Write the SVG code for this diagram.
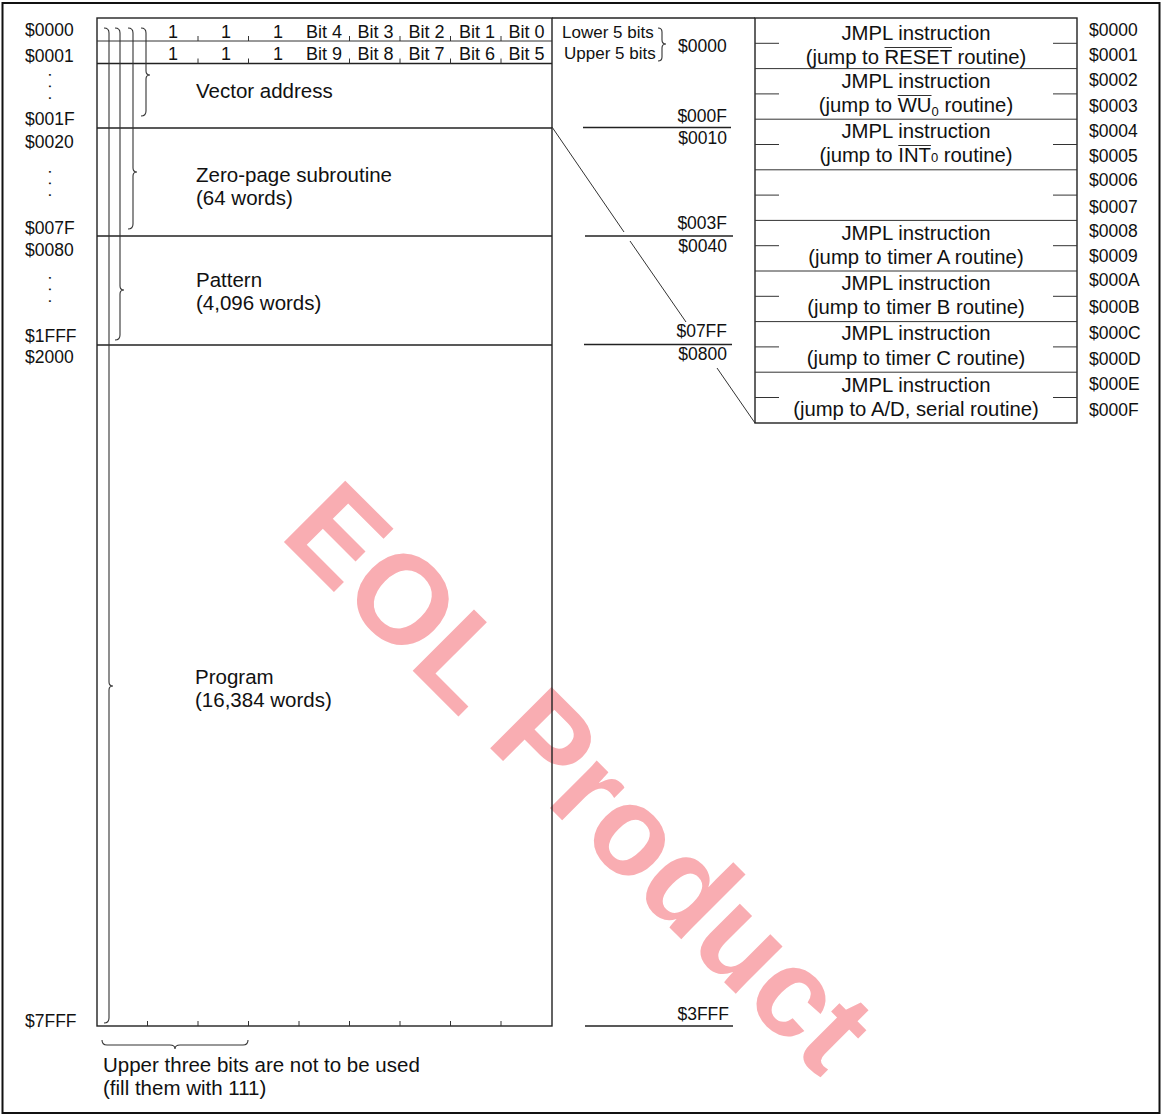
<svg xmlns="http://www.w3.org/2000/svg" width="1166" height="1116" viewBox="0 0 1166 1116">
<style>
text { font-family: "Liberation Sans", Arial, sans-serif; fill: #111; }
.addr { font-size: 17.5px; }
.note { font-size: 17px; }
.end { text-anchor: end; }
.lbl { font-size: 20.5px; }
.bit { font-size: 18px; text-anchor: middle; }
.tb { font-size: 20.3px; text-anchor: middle; }
.dots { font-size: 17px; letter-spacing: 6.8px; }
.ln { stroke: #222; stroke-width: 1.4; fill: none; }
.thin { stroke: #333; stroke-width: 1; fill: none; }
.br { stroke: #333; stroke-width: 1.1; fill: none; }
.wm { font-family: "Liberation Sans", Arial, sans-serif; font-weight: bold; font-size: 126px; fill: #f9adb2; }
</style>
<rect x="2.5" y="3" width="1157" height="1110" fill="#fff" stroke="#111" stroke-width="2"/>
<text class="wm" x="278" y="536" transform="rotate(45 278 536)">EOL Product</text>

<g id="left-addresses">
<text class="addr" x="25" y="36">$0000</text>
<text class="addr" x="25" y="62">$0001</text>
<text class="dots" transform="translate(49 72.6) rotate(90)">...</text>
<text class="addr" x="25" y="125">$001F</text>
<text class="addr" x="25" y="148">$0020</text>
<text class="dots" transform="translate(49 169.6) rotate(90)">...</text>
<text class="addr" x="25" y="234">$007F</text>
<text class="addr" x="25" y="256">$0080</text>
<text class="dots" transform="translate(49 275.6) rotate(90)">...</text>
<text class="addr" x="25" y="342">$1FFF</text>
<text class="addr" x="25" y="363">$2000</text>
<text class="addr" x="25" y="1027">$7FFF</text>
</g>

<g id="memory-map">
<rect class="ln" x="97" y="18" width="455" height="1008"/>
<line class="thin" x1="97" y1="41" x2="552" y2="41"/>
<line class="ln" x1="97" y1="63.5" x2="552" y2="63.5"/>
<line class="ln" x1="97" y1="128" x2="552" y2="128"/>
<line class="ln" x1="97" y1="236" x2="552" y2="236"/>
<line class="ln" x1="97" y1="345" x2="552" y2="345"/>
<path class="thin" d="M198 36V41M248.5 36V41M349.5 36V41M400 36V41M450.5 36V41M501 36V41M198 58.5V63.5M248.5 58.5V63.5M349.5 58.5V63.5M400 58.5V63.5M450.5 58.5V63.5M501 58.5V63.5"/>
<path class="thin" d="M147.5 1021V1026M198 1021V1026M248.5 1021V1026M299 1021V1026M349.5 1021V1026M400 1021V1026M450.5 1021V1026M501 1021V1026"/>
<g id="bit-row-0">
<text class="bit" x="173" y="37.5">1</text>
<text class="bit" x="226" y="37.5">1</text>
<text class="bit" x="278" y="37.5">1</text>
<text class="bit" x="324" y="37.5">Bit 4</text>
<text class="bit" x="375.5" y="37.5">Bit 3</text>
<text class="bit" x="426.5" y="37.5">Bit 2</text>
<text class="bit" x="477" y="37.5">Bit 1</text>
<text class="bit" x="526.5" y="37.5">Bit 0</text>
</g>
<g id="bit-row-1">
<text class="bit" x="173" y="59.5">1</text>
<text class="bit" x="226" y="59.5">1</text>
<text class="bit" x="278" y="59.5">1</text>
<text class="bit" x="324" y="59.5">Bit 9</text>
<text class="bit" x="375.5" y="59.5">Bit 8</text>
<text class="bit" x="426.5" y="59.5">Bit 7</text>
<text class="bit" x="477" y="59.5">Bit 6</text>
<text class="bit" x="526.5" y="59.5">Bit 5</text>
</g>
<g id="braces">
<path class="br" d="M141 28Q146 28 146 33L146 71Q146 75 150 75Q146 75 146 79L146 111Q146 116 141 116"/>
<path class="br" d="M128 28Q133 28 133 33L133 168Q133 172 137 172Q133 172 133 176L133 224Q133 229 128 229"/>
<path class="br" d="M115 28Q120 28 120 33L120 286Q120 290 124 290Q120 290 120 294L120 335Q120 340 115 340"/>
<path class="br" d="M104 28Q109 28 109 33L109 682Q109 686 113 686Q109 686 109 690L109 1018Q109 1023 104 1023"/>
</g>
<g id="vector-address"><text class="lbl" x="196" y="98">Vector address</text></g>
<g id="zero-page"><text class="lbl" x="196" y="182">Zero-page subroutine</text><text class="lbl" x="196" y="205">(64 words)</text></g>
<g id="pattern"><text class="lbl" x="196" y="287">Pattern</text><text class="lbl" x="196" y="310">(4,096 words)</text></g>
<g id="program"><text class="lbl" x="195" y="684">Program</text><text class="lbl" x="195" y="707">(16,384 words)</text></g>
</g>

<g id="upper-bits-note">
<path class="br" d="M102 1040Q102 1045 107 1045L170 1045Q175 1045 175 1049Q175 1045 180 1045L243 1045Q248 1045 248 1040"/>
<text class="lbl" x="103" y="1072">Upper three bits are not to be used</text>
<text class="lbl" x="103" y="1095">(fill them with 111)</text>
</g>

<g id="vector-word-note">
<text class="note" x="562" y="37.5">Lower 5 bits</text>
<text class="note" x="564" y="59">Upper 5 bits</text>
<path class="br" d="M658 28Q662 28 662 32L662 40Q662 44 666 44Q662 44 662 48L662 57Q662 61 658 61"/>
<text class="addr" x="678" y="52">$0000</text>
</g>

<g id="connectors">
<line class="ln" x1="552" y1="18" x2="755" y2="18"/>
<line class="thin" x1="552" y1="127" x2="624" y2="232"/>
<line class="thin" x1="630" y1="241" x2="686" y2="322"/>
<line class="thin" x1="717" y1="368" x2="755" y2="423"/>
<line class="ln" x1="583" y1="127.5" x2="731" y2="127.5"/>
<line class="ln" x1="585" y1="236" x2="733" y2="236"/>
<line class="ln" x1="584" y1="344.5" x2="732" y2="344.5"/>
<line class="ln" x1="585" y1="1026" x2="733" y2="1026"/>
</g>

<g id="boundary-labels">
<text class="addr end" x="727" y="122">$000F</text>
<text class="addr end" x="727" y="144">$0010</text>
<text class="addr end" x="727" y="229">$003F</text>
<text class="addr end" x="727" y="252">$0040</text>
<text class="addr end" x="727" y="337">$07FF</text>
<text class="addr end" x="727" y="360">$0800</text>
<text class="addr end" x="729" y="1020">$3FFF</text>
</g>

<g id="vector-table">
<rect class="ln" x="755" y="18" width="322" height="405"/>
<path class="thin" d="M755 68.6H1077M755 119.2H1077M755 169.8H1077M755 220.4H1077M755 271H1077M755 321.6H1077M755 372.2H1077"/>
<path class="thin" d="M755 43.3H779M1053 43.3H1077M755 93.9H779M1053 93.9H1077M755 144.5H779M1053 144.5H1077M755 195.1H779M1053 195.1H1077M755 245.7H779M1053 245.7H1077M755 296.3H779M1053 296.3H1077M755 346.9H779M1053 346.9H1077M755 397.5H779M1053 397.5H1077"/>
<g id="entry-reset">
<text class="tb" x="916" y="40">JMPL instruction</text>
<text class="tb" x="916" y="64">(jump to RESET routine)</text>
<line class="thin" x1="884.5" y1="47.5" x2="952" y2="47.5"/>
</g>
<g id="entry-wu0">
<text class="tb" x="916" y="88">JMPL instruction</text>
<text class="tb" x="916" y="112">(jump to WU<tspan font-size="13" dy="4">0</tspan><tspan dy="-4"> routine)</tspan></text>
<line class="thin" x1="897.7" y1="95.5" x2="931.5" y2="95.5"/>
</g>
<g id="entry-int0">
<text class="tb" x="916" y="138">JMPL instruction</text>
<text class="tb" x="916" y="162">(jump to INT<tspan font-size="13">0</tspan> routine)</text>
<line class="thin" x1="898.3" y1="145.5" x2="931" y2="145.5"/>
</g>
<g id="entry-empty"></g>
<g id="entry-timer-a">
<text class="tb" x="916" y="240">JMPL instruction</text>
<text class="tb" x="916" y="264">(jump to timer A routine)</text>
</g>
<g id="entry-timer-b">
<text class="tb" x="916" y="290">JMPL instruction</text>
<text class="tb" x="916" y="314">(jump to timer B routine)</text>
</g>
<g id="entry-timer-c">
<text class="tb" x="916" y="340">JMPL instruction</text>
<text class="tb" x="916" y="365">(jump to timer C routine)</text>
</g>
<g id="entry-ad-serial">
<text class="tb" x="916" y="392">JMPL instruction</text>
<text class="tb" x="916" y="416">(jump to A/D, serial routine)</text>
</g>
</g>

<g id="right-addresses">
<text class="addr" x="1089" y="36">$0000</text>
<text class="addr" x="1089" y="61">$0001</text>
<text class="addr" x="1089" y="86">$0002</text>
<text class="addr" x="1089" y="112">$0003</text>
<text class="addr" x="1089" y="137">$0004</text>
<text class="addr" x="1089" y="162">$0005</text>
<text class="addr" x="1089" y="186">$0006</text>
<text class="addr" x="1089" y="213">$0007</text>
<text class="addr" x="1089" y="237">$0008</text>
<text class="addr" x="1089" y="262">$0009</text>
<text class="addr" x="1089" y="286">$000A</text>
<text class="addr" x="1089" y="313">$000B</text>
<text class="addr" x="1089" y="339">$000C</text>
<text class="addr" x="1089" y="365">$000D</text>
<text class="addr" x="1089" y="390">$000E</text>
<text class="addr" x="1089" y="416">$000F</text>
</g>
</svg>
